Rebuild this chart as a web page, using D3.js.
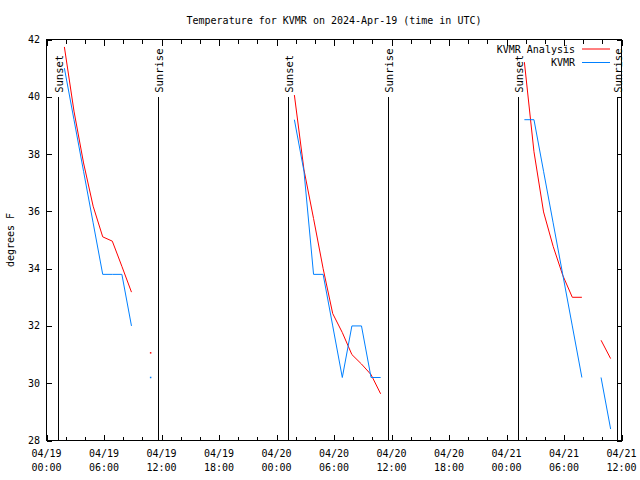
<!DOCTYPE html>
<html>
<head>
<meta charset="utf-8">
<script src="https://cdn.jsdelivr.net/npm/d3@7"></script>
<style>
  html, body { margin: 0; padding: 0; background: #fff; }
  svg { display: block; }
</style>
</head>
<body>
<svg id="chart" width="640" height="480"></svg>
<script>
// ---------------- data ----------------
const titleText = "Temperature for KVMR on 2024-Apr-19 (time in UTC)";
const yLabelText = "degrees F";
const seriesNames = ["KVMR Analysis", "KVMR"];
const seriesColors = ["#ff0000", "#0080ff"];

const xDomain = ["2024-04-19T00:00Z", "2024-04-21T12:00Z"];
const yDomain = [28, 42];
const yTickValues = [28, 30, 32, 34, 36, 38, 40, 42];

const obsTimes = [
  "2024-04-19T01:52Z","2024-04-19T02:52Z","2024-04-19T03:52Z","2024-04-19T04:52Z","2024-04-19T05:52Z",
  "2024-04-19T06:52Z","2024-04-19T07:52Z","2024-04-19T08:52Z","2024-04-19T09:52Z","2024-04-19T10:52Z",
  "2024-04-20T01:52Z","2024-04-20T02:52Z","2024-04-20T03:52Z","2024-04-20T04:52Z","2024-04-20T05:52Z",
  "2024-04-20T06:52Z","2024-04-20T07:52Z","2024-04-20T08:52Z","2024-04-20T09:52Z","2024-04-20T10:52Z",
  "2024-04-21T01:52Z","2024-04-21T02:52Z","2024-04-21T03:52Z","2024-04-21T04:52Z","2024-04-21T05:52Z",
  "2024-04-21T06:52Z","2024-04-21T07:52Z","2024-04-21T08:52Z","2024-04-21T09:52Z","2024-04-21T10:52Z"
];
// segment id: observations are only drawn connected within the same night
const obsNight = [0,0,0,0,0,0,0,0,0,0, 1,1,1,1,1,1,1,1,1,1, 2,2,2,2,2,2,2,2,2,2];

const analysisTemps = [
  41.74, 39.5, 37.69, 36.18, 35.11, 34.96, 34.08, 33.18, null, 31.06,
  40.06, 37.45, 35.75, 34.0, 32.43, 31.77, 31.0, 30.67, 30.3, 29.63,
  41.21, 38.08, 35.98, 34.78, 33.77, 33.0, 33.0, null, 31.5, 30.86
];
const stationTemps = [
  41.0, 39.2, 37.4, 35.6, 33.8, 33.8, 33.8, 32.0, null, 30.2,
  39.2, 37.4, 33.8, 33.8, 32.0, 30.2, 32.0, 32.0, 30.2, 30.2,
  39.2, 39.2, 37.4, 35.6, 33.8, 32.0, 30.2, null, 30.2, 28.4
];

const sunLabels = ["Sunset", "Sunrise", "Sunset", "Sunrise", "Sunset", "Sunrise"];
const sunTimes = ["2024-04-19T01:10Z","2024-04-19T11:38Z","2024-04-20T01:11Z","2024-04-20T11:36Z","2024-04-21T01:12Z","2024-04-21T11:34Z"];
const sunLineTop = 40;

// ---------------- chart ----------------
const svg = d3.select("#chart");
const L = 46.5, R = 621.5, T = 39.5, B = 440.5;

const x = d3.scaleUtc().domain(xDomain.map(d => new Date(d))).range([L, R]);
const y = d3.scaleLinear().domain(yDomain).range([B, T]);

const mono = "'DejaVu Sans Mono', 'Liberation Mono', monospace";

// title
svg.append("text")
  .attr("x", (L + R) / 2).attr("y", 23.5)
  .attr("text-anchor", "middle")
  .attr("font-family", mono).attr("font-size", 10)
  .text(titleText);

// y label
svg.append("text")
  .attr("transform", `translate(10,${(T + B) / 2}) rotate(-90)`)
  .attr("dy", "0.35em")
  .attr("text-anchor", "middle")
  .attr("font-family", mono).attr("font-size", 10)
  .text(yLabelText);

// tick marks via axes
function styleAxis(g) {
  g.select(".domain").remove();
  g.selectAll("line").attr("stroke", "#000").attr("shape-rendering", "crispEdges");
  g.selectAll("text").remove();
}
const minorEvery = d3.utcHour.every(2);
const majorEvery = d3.utcHour.every(6);

svg.append("g").attr("transform", `translate(0,${B})`)
  .call(d3.axisTop(x).ticks(minorEvery).tickSize(4)).call(styleAxis);
svg.append("g").attr("transform", `translate(0,${B})`)
  .call(d3.axisTop(x).ticks(majorEvery).tickSize(6)).call(styleAxis);
svg.append("g").attr("transform", `translate(0,${T})`)
  .call(d3.axisBottom(x).ticks(minorEvery).tickSize(4)).call(styleAxis);
svg.append("g").attr("transform", `translate(0,${T})`)
  .call(d3.axisBottom(x).ticks(majorEvery).tickSize(6)).call(styleAxis);
svg.append("g").attr("transform", `translate(${L},0)`)
  .call(d3.axisRight(y).tickValues(yTickValues).tickSize(5)).call(styleAxis);
svg.append("g").attr("transform", `translate(${R},0)`)
  .call(d3.axisLeft(y).tickValues(yTickValues).tickSize(5)).call(styleAxis);

// x tick labels
const fmtDate = d3.utcFormat("%m/%d"), fmtTime = d3.utcFormat("%H:%M");
const xl = svg.append("g").attr("font-family", mono).attr("font-size", 10).attr("text-anchor", "middle");
x.ticks(majorEvery).forEach(t => {
  xl.append("text").attr("x", x(t)).attr("y", B + 16).text(fmtDate(t));
  xl.append("text").attr("x", x(t)).attr("y", B + 30).text(fmtTime(t));
});

// y tick labels
const yl = svg.append("g").attr("font-family", mono).attr("font-size", 10).attr("text-anchor", "end");
yTickValues.forEach(v => {
  yl.append("text").attr("x", 40).attr("y", y(v)).attr("dy", "0.35em").text(v);
});

// sunrise / sunset
const sun = svg.append("g");
sunTimes.forEach((t, i) => {
  const sx = Math.round(x(new Date(t))) + 0.5;
  sun.append("line")
    .attr("x1", sx).attr("x2", sx)
    .attr("y1", y(sunLineTop)).attr("y2", B)
    .attr("stroke", "#000").attr("shape-rendering", "crispEdges");
  sun.append("text")
    .attr("transform", `translate(${sx + 1},${y(sunLineTop) - 4}) rotate(-90)`)
    .attr("dy", "0.35em")
    .attr("font-family", mono).attr("font-size", 10.5)
    .text(sunLabels[i]);
});

// frame
svg.append("rect")
  .attr("x", L).attr("y", T).attr("width", R - L).attr("height", B - T)
  .attr("fill", "none").attr("stroke", "#000").attr("shape-rendering", "crispEdges");

// series
const rows = obsTimes.map((t, i) => ({ t: new Date(t), night: obsNight[i], a: analysisTemps[i], s: stationTemps[i] }));
const nights = d3.groups(rows, d => d.night).map(g => g[1]);

function drawSeries(key, color) {
  const line = d3.line()
    .defined(d => d[key] != null)
    .x(d => x(d.t)).y(d => y(d[key]));
  const g = svg.append("g");
  nights.forEach(arr => {
    g.append("path").attr("d", line(arr))
      .attr("fill", "none").attr("stroke", color).attr("stroke-width", 1);
    arr.forEach((d, i) => {
      if (d[key] == null) return;
      const prev = arr[i - 1], next = arr[i + 1];
      const alone = (!prev || prev[key] == null) && (!next || next[key] == null);
      if (alone) {
        g.append("rect").attr("x", x(d.t) - 0.75).attr("y", y(d[key]) - 0.75)
          .attr("width", 1.5).attr("height", 1.5).attr("fill", color);
      }
    });
  });
}
drawSeries("a", seriesColors[0]);
drawSeries("s", seriesColors[1]);

// legend
const lg = svg.append("g").attr("font-family", mono).attr("font-size", 10);
const legendY = [49, 62.5];
seriesNames.forEach((name, i) => {
  lg.append("text").attr("x", 575).attr("y", legendY[i]).attr("dy", "0.35em").attr("text-anchor", "end").text(name);
  lg.append("line").attr("x1", 582).attr("x2", 610)
    .attr("y1", legendY[i]).attr("y2", legendY[i])
    .attr("stroke", seriesColors[i]).attr("stroke-width", 1);
});
</script>
</body>
</html>
